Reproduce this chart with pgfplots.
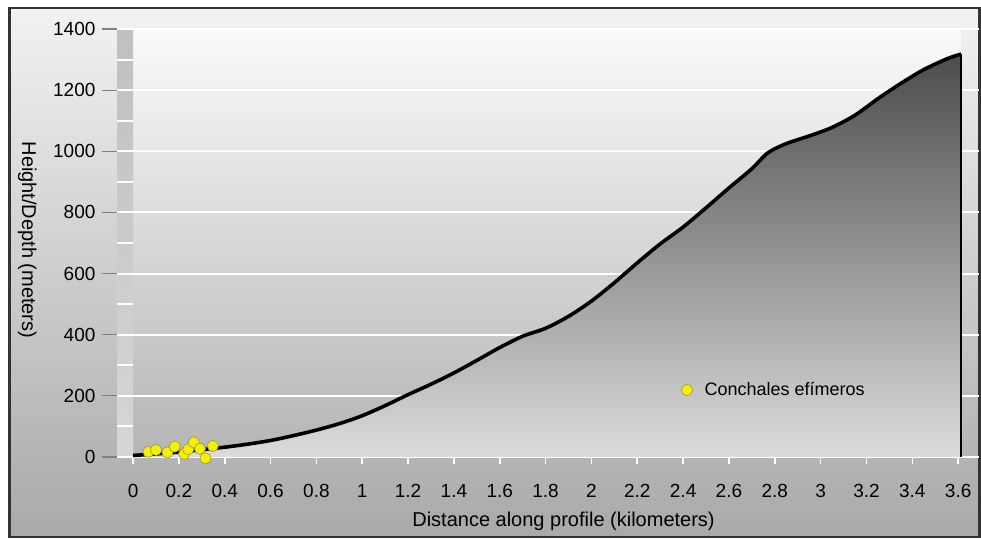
\documentclass[border=0pt]{standalone}
\usepackage{fontspec}
\setmainfont{Liberation Sans}
\usepackage{pgfplots}
\pgfplotsset{compat=1.18}

\definecolor{frametop}{HTML}{F2F2F2}
\definecolor{framebot}{HTML}{A9A9A9}
\definecolor{plottop}{HTML}{FAFAFA}
\definecolor{plotbot}{HTML}{B5B5B5}
\definecolor{striptop}{HTML}{C0C0C0}
\definecolor{stripbot}{HTML}{D6D6D6}
\definecolor{filltop}{HTML}{4C4C4C}
\definecolor{fillbot}{HTML}{DCDCDC}
\definecolor{shell}{HTML}{F4F000}

\begin{document}
\begin{tikzpicture}
% page and outer frame
\fill[white] (0,0) rectangle (490.5pt,269pt);
\shade[top color=frametop, bottom color=framebot] (4.75pt,0.5pt) rectangle (489.75pt,265pt);
\draw[line width=1.2pt, black!80] (4.75pt,0.5pt) rectangle (489.75pt,265pt);

\begin{axis}[
    at={(58.5pt,40.5pt)}, anchor=south west,
    scale only axis, width=431pt, height=214pt,
    xmin=-0.07, xmax=3.691,
    ymin=0, ymax=1400,
    clip=false,
    axis line style={draw=none},
    tick align=outside,
    xtick pos=lower, ytick pos=left,
    xtick={0,0.2,0.4,0.6,0.8,1,1.2,1.4,1.6,1.8,2,2.2,2.4,2.6,2.8,3,3.2,3.4,3.6},
    ytick={0,200,400,600,800,1000,1200,1400},
    minor tick num=0,
    xtick style={draw=white, line width=0.8pt, /pgfplots/major tick length=3.5pt},
    ytick style={draw=gray, line width=0.6pt, /pgfplots/major tick length=7.5pt},
    /pgf/number format/assume math mode=true,
    /pgf/number format/1000 sep={},
    ticklabel style={font=\fontsize{9.5}{11}\selectfont},
    yticklabel style={xshift=-3pt},
    xticklabel style={yshift=-6pt},
    xlabel={Distance along profile (kilometers)},
    ylabel={Height/Depth (meters)},
    label style={font=\fontsize{10}{12}\selectfont},
    xlabel style={at={(axis description cs:0.518,-0.15)}, anchor=center},
    ylabel style={at={(axis description cs:-0.104,0.507)}, anchor=center, rotate=180},
    legend style={at={(axis cs:2.365,219)}, anchor=west, draw=none, fill=none,
        font=\fontsize{9}{11}\selectfont},
    legend cell align=left,
]
% plot area background and left strip
\shade[top color=plottop, bottom color=plotbot] (axis cs:-0.07,0) rectangle (axis cs:3.613,1400);
\shade[top color=striptop, bottom color=stripbot] (axis cs:-0.07,0) rectangle (axis cs:0,1400);
\pgfplotsinvokeforeach{100,300,500,700,900,1100,1300}{
    \draw[white, line width=1pt] (axis cs:-0.07,#1) -- (axis cs:0,#1);
}
\pgfplotsinvokeforeach{0,200,400,600,800,1000,1200,1400}{
    \draw[white, line width=1pt] (axis cs:-0.07,#1) -- (axis cs:3.691,#1);
}

% profile
\addplot[forget plot, draw=none, smooth, top color=filltop, bottom color=fillbot] coordinates {
    (0,5) (0.1,10) (0.2,16) (0.3,24) (0.4,32) (0.5,42) (0.6,54) (0.7,70)
    (0.8,88) (0.9,109) (1.0,135) (1.1,168) (1.2,204) (1.3,238) (1.4,275)
    (1.5,316) (1.6,358) (1.7,395) (1.8,421) (1.9,460) (2.0,510) (2.1,570)
    (2.2,635) (2.3,697) (2.4,752) (2.5,815) (2.6,880) (2.7,943) (2.77,995)
    (2.85,1025) (2.95,1050) (3.05,1078) (3.15,1118) (3.25,1172) (3.35,1222)
    (3.45,1267) (3.55,1302) (3.613,1318)
} \closedcycle;
\addplot[forget plot, black, line width=1.8pt, smooth] coordinates {
    (0,5) (0.1,10) (0.2,16) (0.3,24) (0.4,32) (0.5,42) (0.6,54) (0.7,70)
    (0.8,88) (0.9,109) (1.0,135) (1.1,168) (1.2,204) (1.3,238) (1.4,275)
    (1.5,316) (1.6,358) (1.7,395) (1.8,421) (1.9,460) (2.0,510) (2.1,570)
    (2.2,635) (2.3,697) (2.4,752) (2.5,815) (2.6,880) (2.7,943) (2.77,995)
    (2.85,1025) (2.95,1050) (3.05,1078) (3.15,1118) (3.25,1172) (3.35,1222)
    (3.45,1267) (3.55,1302) (3.613,1318)
};
\addplot[forget plot, black, line width=1.3pt] coordinates {(3.613,1318) (3.613,0)};

% shell middens
\addplot[only marks, mark=*, mark size=2.8pt,
    mark options={fill=shell, draw=yellow!55!black, line width=0.3pt}] coordinates {
    (0.067,17) (0.10,23) (0.15,15) (0.182,34) (0.223,10) (0.241,25)
    (0.265,48) (0.292,27) (0.316,-4) (0.348,36)
};
\addlegendentry{\hspace{4pt}Conchales efímeros}
\end{axis}
\end{tikzpicture}
\end{document}
